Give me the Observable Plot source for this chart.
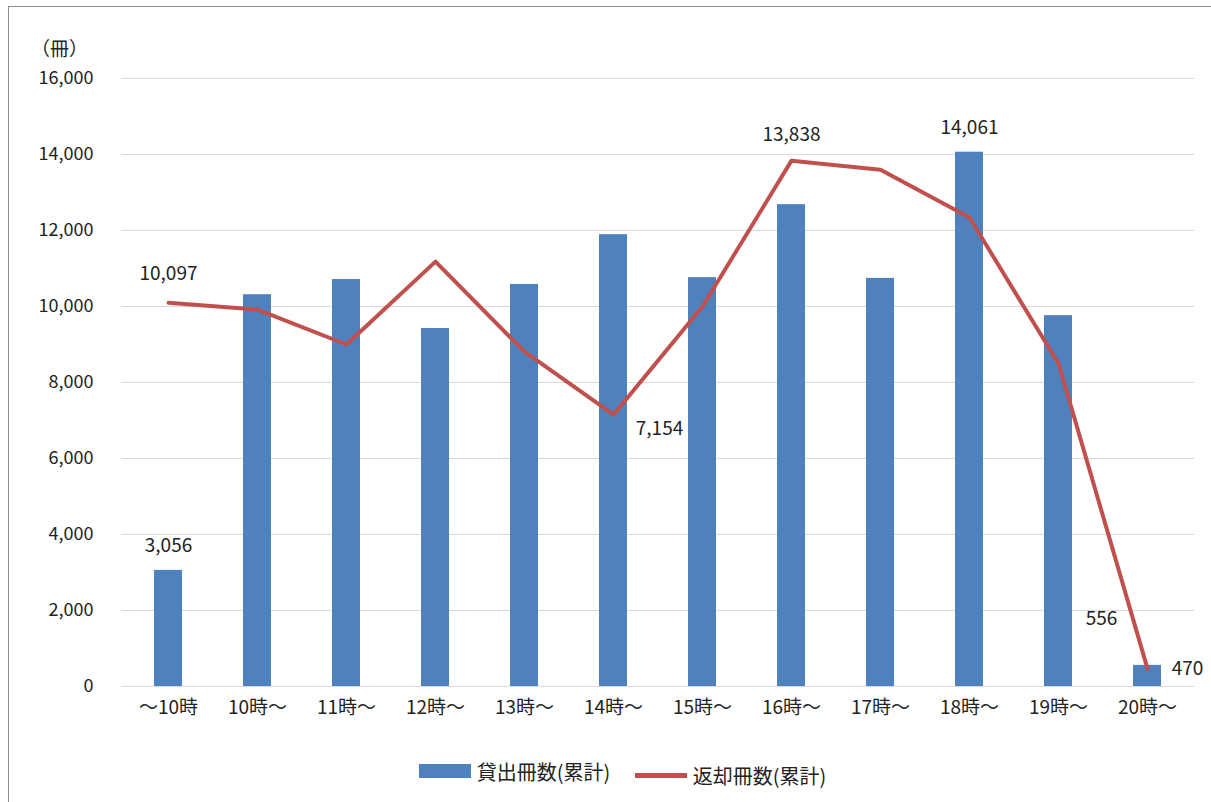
<!DOCTYPE html>
<html><head><meta charset="utf-8">
<script src="https://cdn.jsdelivr.net/npm/d3@7"></script>
<script src="https://cdn.jsdelivr.net/npm/@observablehq/plot@0.6"></script>
<style>
body{margin:0;background:#fff;font-family:"Noto Sans CJK JP","Noto Sans",sans-serif;}
#wrap{position:absolute;left:8px;top:6px;width:1220px;height:820px;border:1px solid #8c8c8c;}
#chart{position:absolute;left:-8px;top:-6px;}
#unit{position:absolute;left:22px;top:27px;font-size:19px;color:#222;}
#legend{position:absolute;left:0;top:755px;width:1245px;text-align:center;font-size:20px;color:#222;}
.it{display:inline-flex;align-items:center;margin:0 10px;}
.sw{display:inline-block;margin-right:6px;}
</style></head><body>
<div id="wrap"><div id="chart"></div><div id="unit">（冊）</div></div>
<div id="legend">
<span class="it"><span class="sw" style="width:52px;height:14px;background:#4f81bd"></span>貸出冊数(累計)</span>
<span class="it"><span class="sw" style="width:52px;height:5px;background:#c0504d"></span>返却冊数(累計)</span>
</div>
<script>
const hours = ["～10時","10時～","11時～","12時～","13時～","14時～","15時～","16時～","17時～","18時～","19時～","20時～"];
const lent = [3056,10310,10710,9420,10580,11890,10760,12680,10740,14061,9760,556];
const returned = [10097,9920,9000,11180,8810,7154,10000,13838,13600,12340,8500,470];
const bars = hours.map((h,i)=>({h, v:lent[i]}));
const pts = hours.map((h,i)=>({h, v:returned[i]}));
const labels = [
  {h:"～10時",v:3056,dy:-24,dx:0},{h:"18時～",v:14061,dy:-24,dx:0},{h:"20時～",v:556,dy:-46,dx:-46},
  {h:"～10時",v:10097,dy:-29,dx:0},{h:"14時～",v:7154,dy:14,dx:46},{h:"16時～",v:13838,dy:-26,dx:0},{h:"20時～",v:470,dy:0,dx:40}
];
const fmt = d3.format(",");
const chart = Plot.plot({
  width:1211, height:740, marginLeft:120, marginRight:18, marginTop:77, marginBottom:55,
  style:{fontFamily:"'Noto Sans CJK JP','Noto Sans',sans-serif", fontSize:"18px", color:"#222"},
  x:{domain:hours, paddingInner:0.69, paddingOuter:0.345, label:null, tickSize:0, tickPadding:14},
  y:{domain:[0,16000], ticks:d3.range(0,16001,2000), tickFormat:fmt, label:null, tickSize:0, tickPadding:28},
  marks:[
    Plot.gridY(d3.range(0,16001,2000), {stroke:"#d9d9d9", strokeOpacity:1}),
    Plot.barY(bars, {x:"h", y:"v", fill:"#4f81bd"}),
    Plot.line(pts, {x:"h", y:"v", stroke:"#c0504d", strokeWidth:4}),
    ...labels.map(l => Plot.text([l], {x:"h", y:"v", dx:l.dx, dy:l.dy, text:d=>fmt(d.v), fontSize:19}))
  ]
});
chart.querySelectorAll("[aria-label='x-axis tick label'] text").forEach(t => t.setAttribute("font-size", "19"));
document.getElementById("chart").appendChild(chart);
</script></body></html>
